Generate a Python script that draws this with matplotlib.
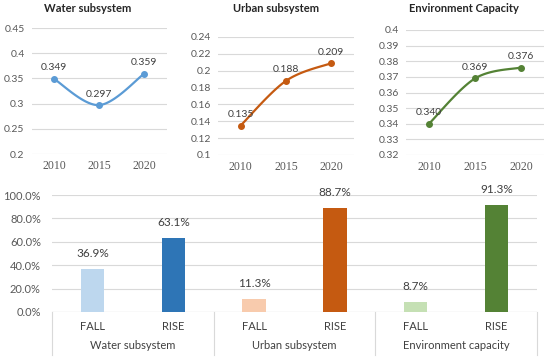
import numpy as np
import matplotlib
matplotlib.use("Agg")
import matplotlib.pyplot as plt
import matplotlib.transforms as mtransforms

plt.rcParams['font.family'] = ['Lato', 'DejaVu Sans']

years = ["2010", "2015", "2020"]
water = [0.349, 0.297, 0.359]
urban = [0.135, 0.188, 0.209]
env = [0.340, 0.369, 0.376]

groups = ["Water subsystem", "Urban subsystem", "Environment capacity"]
sub_labels = ["FALL", "RISE"]
bar_values = [36.9, 63.1, 11.3, 88.7, 8.7, 91.3]

W, H = 550, 363
fig = plt.figure(figsize=(5.5, 3.63), dpi=100)


def add_ax(l, t, r, b):
    return fig.add_axes([l / W, 1 - b / H, (r - l) / W, (b - t) / H])


def smooth(y, n=40):
    # Excel-like bezier smoothing through the data points (display only)
    x = np.arange(len(y), dtype=float)
    P = np.column_stack([x, np.asarray(y, float)])
    pts = []
    for i in range(len(P) - 1):
        p0 = P[i]
        p3 = P[i + 1]
        prev = P[i - 1] if i > 0 else P[i]
        nxt = P[i + 2] if i + 2 < len(P) else P[i + 1]
        c1 = p0 + (p3 - prev) / 6
        c2 = p3 - (nxt - p0) / 6
        t = np.linspace(0, 1, n)[:, None]
        seg = ((1 - t) ** 3) * p0 + 3 * ((1 - t) ** 2) * t * c1 + 3 * (1 - t) * t ** 2 * c2 + t ** 3 * p3
        pts.append(seg if i == 0 else seg[1:])
    pts = np.vstack(pts)
    return pts[:, 0], pts[:, 1]


tick_col = "#595959"
grid_col = "#D9D9D9"
lab_col = "#404040"

panels = [
    (water, "#5B9BD5", "Water subsystem", (31.5, 28, 166.5, 154), (0.2, 0.45), 0.05, 88),
    (urban, "#C55A11", "Urban subsystem", (218, 37, 354, 155), (0.1, 0.24), 0.02, 276),
    (env, "#548235", "Environment Capacity", (406, 30, 544, 155), (0.32, 0.40), 0.01, 464),
]

for vals, col, title, box, ylim, step, tx in panels:
    ax = add_ax(*box)
    ax.set_xlim(-0.5, 2.5)
    ax.set_ylim(*ylim)
    ticks = np.round(np.arange(ylim[0], ylim[1] + step / 2, step), 4)
    ax.set_yticks(ticks)
    ax.set_yticklabels(["%g" % t for t in ticks])
    ax.set_xticks(range(len(years)))
    ax.set_xticklabels(years, fontfamily=['Liberation Serif', 'DejaVu Serif'], fontsize=8.5, color=tick_col)
    ax.tick_params(axis='y', length=0, pad=5, labelsize=7.5, labelcolor=tick_col)
    ax.tick_params(axis='x', length=0, pad=4)
    ax.grid(axis='y', color=grid_col, linewidth=0.8)
    ax.set_axisbelow(True)
    for s in ax.spines.values():
        s.set_visible(False)
    sx, sy = smooth(vals)
    ax.plot(sx, sy, color=col, linewidth=1.6, solid_capstyle='round')
    ax.plot(range(len(vals)), vals, 'o', color=col, markersize=4)
    for i, v in enumerate(vals):
        ax.annotate("%.3f" % v, (i, v), xytext=(0, 8), textcoords='offset points',
                    ha='center', va='center', fontsize=7.5, color=lab_col)
    fig.text(tx / W, 1 - 9 / H, title, ha='center', va='center', fontsize=8,
             fontweight='bold', color="#262626")

# Bottom bar chart
bx = add_ax(52, 195, 537, 312)
bar_colors = ["#BDD7EE", "#2E75B6", "#F8CBAD", "#C55A11", "#C5E0B4", "#548235"]
pos = np.arange(len(bar_values))
bx.bar(pos, np.array(bar_values) / 100, width=0.29, color=bar_colors, zorder=3)
bx.set_xlim(-0.5, len(bar_values) - 0.5)
bx.set_ylim(0, 1.0)
yt = np.arange(0, 1.01, 0.2)
bx.set_yticks(yt)
bx.set_yticklabels(["%.1f%%" % (t * 100) for t in yt])
bx.tick_params(axis='y', length=0, pad=8, labelsize=8, labelcolor=tick_col)
bx.set_xticks([])
bx.grid(axis='y', color=grid_col, linewidth=0.8)
bx.set_axisbelow(True)
for s in bx.spines.values():
    s.set_visible(False)
bx.axhline(0, color="#D0D0D0", linewidth=0.8, zorder=2)
for i, v in enumerate(bar_values):
    bx.annotate("%.1f%%" % v, (i, v / 100), xytext=(0, 11), textcoords='offset points',
                ha='center', va='center', fontsize=8.5, color=lab_col)

trans = mtransforms.blended_transform_factory(bx.transData, bx.transAxes)
for i in range(len(bar_values)):
    bx.text(i, -0.12, sub_labels[i % 2], transform=trans, ha='center', va='center',
            fontsize=8, color=lab_col)
for g, name in enumerate(groups):
    bx.text(2 * g + 0.5, -0.285, name, transform=trans, ha='center', va='center',
            fontsize=8, color=lab_col)
for xb in [-0.5, 1.5, 3.5, 5.5]:
    bx.plot([xb, xb], [0, -0.37], transform=trans, color="#D9D9D9", linewidth=0.8, clip_on=False)

fig.savefig("out.png", dpi=100)
